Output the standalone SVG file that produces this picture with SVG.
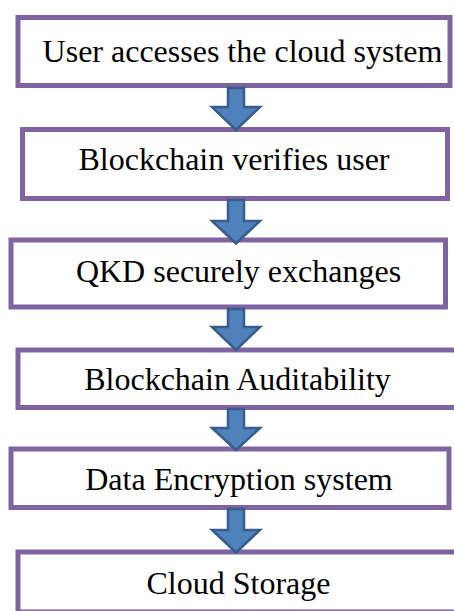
<svg xmlns="http://www.w3.org/2000/svg" width="454" height="611" viewBox="0 0 454 611">
<style>
.box{fill:#ffffff;stroke:#8064A2;stroke-width:5}
.lbl{font-family:"Liberation Serif","Times New Roman",serif;font-size:32px;fill:#000000;text-anchor:middle}
.arr{fill:#4F81BD;stroke:#385D8A;stroke-width:2.5;stroke-linejoin:miter}
</style>
<rect width="454" height="611" fill="#ffffff"/>
<g id="n1"><rect class="box" x="18" y="17.5" width="432" height="68"/><text class="lbl" x="242.5" y="61.5">User accesses the cloud system</text></g>
<g id="n2"><rect class="box" x="22.5" y="129.5" width="425" height="69"/><text class="lbl" x="234" y="169.5">Blockchain verifies user</text></g>
<g id="n3"><rect class="box" x="11" y="240" width="434.5" height="67"/><text class="lbl" x="238.5" y="281.5">QKD securely exchanges</text></g>
<g id="n4"><rect class="box" x="18" y="350" width="445" height="57.5"/><text class="lbl" x="237.5" y="389.5">Blockchain Auditability</text></g>
<g id="n5"><rect class="box" x="11" y="449" width="438" height="58.5"/><text class="lbl" x="239" y="489.5">Data Encryption system</text></g>
<g id="n6"><rect class="box" x="18" y="552" width="445" height="60"/><text class="lbl" x="238.5" y="594">Cloud Storage</text></g>
<g id="connectors">
<path class="arr" d="M228,88 H244 V107 H260 L236,130 L212,107 H228 Z"/>
<path class="arr" d="M228,200 H244 V221 H260 L236,243.5 L212,221 H228 Z"/>
<path class="arr" d="M228,309 H244 V327 H260 L236,350 L212,327 H228 Z"/>
<path class="arr" d="M228,409 H244 V428 H260 L236,450 L212,428 H228 Z"/>
<path class="arr" d="M228,509 H244 V530 H260 L236,552.5 L212,530 H228 Z"/>
</g>
</svg>
